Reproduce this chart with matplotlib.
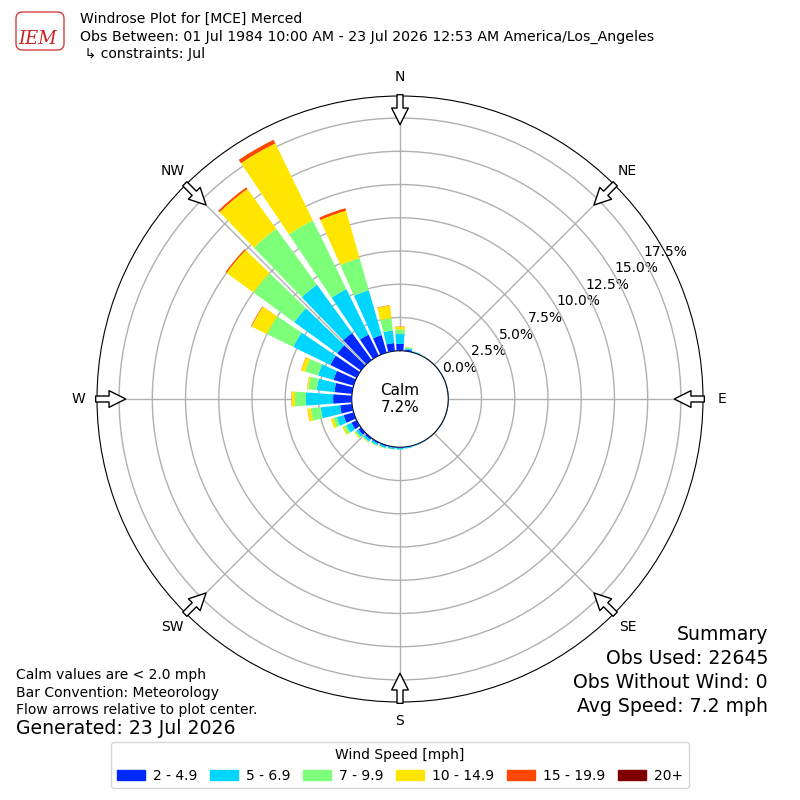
import numpy as np
import matplotlib
matplotlib.use('Agg')
import matplotlib.pyplot as plt
from matplotlib.patches import Patch, FancyBboxPatch

# direction bins, degrees (meteorological, where wind blows from)
directions = np.arange(0, 360, 10)

speed_labels = ['2 - 4.9', '5 - 6.9', '7 - 9.9', '10 - 14.9', '15 - 19.9', '20+']

# percent of all obs, one list per speed bin (0, 10, ... 350 deg)
pct_2_5 = [0.52, 0.12, 0.05, 0.03, 0.02, 0.02, 0.02, 0.02, 0.02,
           0.02, 0.02, 0.02, 0.02, 0.02, 0.02, 0.02, 0.03, 0.04,
           0.06, 0.06, 0.08, 0.10, 0.15, 0.25, 0.44, 0.78, 0.90,
           1.40, 1.33, 1.57, 2.20, 2.20, 2.50, 1.76, 1.37, 0.60]
pct_5_7 = [0.75, 0.10, 0.04, 0.02, 0.01, 0.01, 0.01, 0.01, 0.01,
           0.01, 0.01, 0.01, 0.01, 0.01, 0.01, 0.02, 0.04, 0.08,
           0.12, 0.12, 0.13, 0.15, 0.17, 0.20, 0.43, 0.54, 1.46,
           2.05, 1.33, 1.21, 3.10, 4.00, 4.50, 3.80, 3.50, 0.95]
pct_7_10 = [0.33, 0.08, 0.02, 0.01, 0.0, 0.0, 0.0, 0.0, 0.0,
            0.0, 0.0, 0.0, 0.0, 0.0, 0.0, 0.0, 0.01, 0.01,
            0.02, 0.02, 0.04, 0.05, 0.08, 0.12, 0.21, 0.26, 0.76,
            0.82, 0.64, 1.01, 2.20, 3.80, 5.20, 5.75, 2.53, 0.93]
pct_10_15 = [0.20, 0.03, 0.0, 0.0, 0.0, 0.0, 0.0, 0.0, 0.0,
             0.0, 0.0, 0.0, 0.0, 0.0, 0.0, 0.0, 0.0, 0.0,
             0.01, 0.01, 0.02, 0.02, 0.03, 0.07, 0.13, 0.20, 0.25,
             0.25, 0.10, 0.31, 1.30, 2.50, 3.70, 6.45, 3.70, 0.95]
pct_15_20 = [0.02, 0.0, 0.0, 0.0, 0.0, 0.0, 0.0, 0.0, 0.0,
             0.0, 0.0, 0.0, 0.0, 0.0, 0.0, 0.0, 0.0, 0.0,
             0.0, 0.0, 0.0, 0.0, 0.0, 0.0, 0.0, 0.0, 0.01,
             0.02, 0.01, 0.02, 0.05, 0.10, 0.15, 0.30, 0.20, 0.03]
pct_20p = [0.0] * 36

calm_pct = 7.2
rticks = [0.0, 2.5, 5.0, 7.5, 10.0, 12.5, 15.0, 17.5]
compass = ['N', 'NE', 'E', 'SE', 'S', 'SW', 'W', 'NW']

series = [pct_2_5, pct_5_7, pct_7_10, pct_10_15, pct_15_20, pct_20p]
colors = plt.cm.jet(np.linspace(0, 1, 7)[1:])

fig = plt.figure(figsize=(8, 8), dpi=100)
ax = fig.add_axes([0.12125, 0.1225, 0.7575, 0.7575], projection='polar')
ax.set_theta_zero_location('N')
ax.set_theta_direction(-1)

theta = np.deg2rad(directions)
width = np.deg2rad(8.0)
base = np.zeros(len(directions))
for vals, c, lab in zip(series, colors, speed_labels):
    vals = np.array(vals)
    ax.bar(theta, vals, width=width, bottom=base, color=c, linewidth=0,
           label=lab, zorder=3)
    base = base + vals

rmax = 19.16
ax.set_rorigin(-3.63)
ax.set_ylim(0, rmax)

ax.set_yticks(rticks)
ax.set_yticklabels(['%.1f%%' % t for t in rticks], fontsize=10)
ax.set_rlabel_position(60)
ax.set_xticks(np.deg2rad(np.arange(0, 360, 45)))
ax.set_xticklabels(compass, fontsize=10)
ax.tick_params(axis='x', pad=3)
ax.grid(True, color='#b0b0b0', lw=1, zorder=1)
ax.set_axisbelow(True)

# flow arrows at the compass points
for d in np.arange(0, 360, 45):
    t = np.deg2rad(d)
    ax.annotate('', xy=(t, 17.0), xytext=(t, rmax + 0.1),
                arrowprops=dict(arrowstyle='simple,head_length=1.2,head_width=1.2,tail_width=0.43',
                                fc='white', ec='black', lw=1,
                                shrinkA=0, shrinkB=0, mutation_scale=10),
                annotation_clip=False, zorder=5)

ax.text(0, -3.63, 'Calm\n%.1f%%' % calm_pct, ha='center', va='center',
        fontsize=11, zorder=6)

# header
fig.text(0.1, 1 - 19 / 800, 'Windrose Plot for [MCE] Merced', fontsize=10.1, va='center')
fig.text(0.1, 1 - 37 / 800,
         'Obs Between: 01 Jul 1984 10:00 AM - 23 Jul 2026 12:53 AM America/Los_Angeles',
         fontsize=10.15, va='center')
fig.text(0.1, 1 - 54 / 800, ' \u21b3 constraints: Jul', fontsize=10.1, va='center')

# stand-in for the IEM logo
fig.add_artist(FancyBboxPatch((16 / 800, 1 - 50 / 800), 48 / 800, 38 / 800,
                              boxstyle='round,pad=0,rounding_size=0.008',
                              transform=fig.transFigure, fill=False,
                              ec='#d04040', lw=1))
fig.text(0.023, 1 - 39 / 800, 'IEM', fontsize=13, color='#cc2222',
         family='DejaVu Serif', style='italic', va='center')

# footer notes
fig.text(0.02, 1 - 675 / 800, 'Calm values are < 2.0 mph', fontsize=10, va='center')
fig.text(0.02, 1 - 693 / 800, 'Bar Convention: Meteorology', fontsize=10, va='center')
fig.text(0.02, 1 - 710 / 800, 'Flow arrows relative to plot center.', fontsize=10, va='center')
fig.text(0.02, 1 - 729 / 800, 'Generated: 23 Jul 2026', fontsize=13.6, va='center')

summary = ['Summary', 'Obs Used: 22645', 'Obs Without Wind: 0', 'Avg Speed: 7.2 mph']
for i, s in enumerate(summary):
    fig.text(0.96, 1 - (635 + 23.7 * i) / 800, s, fontsize=13.6, ha='right', va='center')

handles = [Patch(color=c, label=l) for c, l in zip(colors, speed_labels)]
fig.legend(handles=handles, loc='lower center', bbox_to_anchor=(0.5, 5 / 800),
           ncol=6, fontsize=10, title='Wind Speed [mph]', title_fontsize=10,
           columnspacing=0.9, handletextpad=0.6)

fig.savefig('out.png', dpi=100)
